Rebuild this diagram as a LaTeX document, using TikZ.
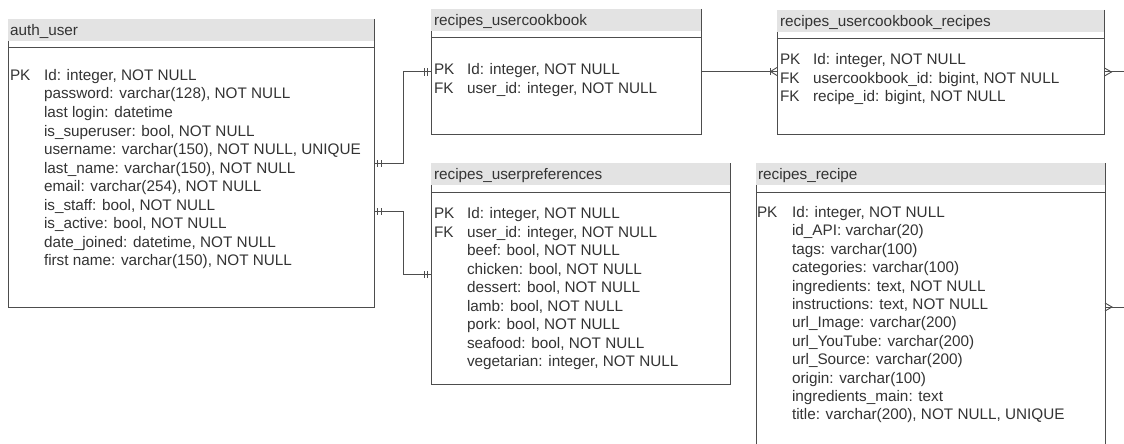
\documentclass[tikz,border=0pt]{standalone}
\usepackage{fontspec}
\setmainfont{Liberation Sans}
\usetikzlibrary{calc}
\definecolor{ink}{HTML}{333333}
\definecolor{edge}{HTML}{4D4D4D}
\definecolor{hdr}{HTML}{E3E3E3}
\tikzset{
  tbl/.style={inner sep=0, outer sep=0, draw=none},
  txt/.style={anchor=base west, inner sep=0, outer sep=0, text=ink,
              font=\fontsize{15.3}{18}\selectfont},
  frame/.style={draw=edge, line width=1pt},
  conn/.style={draw=edge, line width=1pt},
  tick/.style={draw=edge, line width=0.9pt},
}

% table: name, x, y, width, height, title x, title
\newcommand\ertable[7]{%
  \node[tbl, minimum width=#4pt, minimum height=#5pt, anchor=north west] (#1) at (#2,#3) {};
  \fill[hdr] (#1.north west) rectangle ($(#1.north east)+(0,-22pt)$);
  \draw[frame] (#1.north east) -- (#1.south east) -- (#1.south west) -- ($(#1.north west)+(0,-22pt)$);
  \draw[frame] ($(#1.north west)+(0,-29pt)$) -- ($(#1.north east)+(0,-29pt)$);
  \node[txt] (#1-title) at (#6,{#3+16.5}) {#7};
}
% field rows: name, x, first baseline, spacing, list
\newcommand\erfields[5]{%
  \foreach \t [count=\i] in {#5} {\node[txt] (#1-f\i) at (#2,{#3+#4*(\i-1)}) {\t};}
}
% mandatory-one mark: point, direction (+1 right, -1 left)
\newcommand\mandone[2]{%
  \draw[tick] ($(#1)+(#2*3.5pt,-3.5pt)$) -- ++(0,7pt);
  \draw[tick] ($(#1)+(#2*7pt,-3.5pt)$) -- ++(0,7pt);
}

\begin{document}
\begin{tikzpicture}[x=1pt,y=-1pt]
\useasboundingbox (0,0) rectangle (1124,444);

% ---------- auth_user ----------
\ertable{auth}{8}{19}{366}{288}{10}{auth\_user}
\node[txt] (auth-k1) at (10,80.5) {PK};
\erfields{auth}{44}{80.5}{18.5}{{Id: integer, NOT NULL},{password: varchar(128), NOT NULL},{last login: datetime},{is\_superuser: bool, NOT NULL},{username: varchar(150), NOT NULL, UNIQUE},{last\_name: varchar(150), NOT NULL},{email: varchar(254), NOT NULL},{is\_staff: bool, NOT NULL},{is\_active: bool, NOT NULL},{date\_joined: datetime, NOT NULL},{first name: varchar(150), NOT NULL}}

% ---------- recipes_usercookbook ----------
\ertable{ucb}{431}{9}{270}{125}{434}{recipes\_usercookbook}
\node[txt] (ucb-k1) at (434,74.5) {PK};
\node[txt] (ucb-k2) at (434,93) {FK};
\erfields{ucb}{467}{74.5}{18.5}{{Id: integer, NOT NULL},{user\_id: integer, NOT NULL}}

% ---------- recipes_usercookbook_recipes ----------
\ertable{ucr}{777}{10}{327.5}{124}{780}{recipes\_usercookbook\_recipes}
\node[txt] (ucr-k1) at (780,64.5) {PK};
\node[txt] (ucr-k2) at (780,83) {FK};
\node[txt] (ucr-k3) at (780,101.5) {FK};
\erfields{ucr}{813}{64.5}{18.5}{{Id: integer, NOT NULL},{usercookbook\_id: bigint, NOT NULL},{recipe\_id: bigint, NOT NULL}}

% ---------- recipes_userpreferences ----------
\ertable{prefs}{431}{163}{299}{221}{434}{recipes\_userpreferences}
\node[txt] (prefs-k1) at (434,218.5) {PK};
\node[txt] (prefs-k2) at (434,237) {FK};
\erfields{prefs}{467}{218.5}{18.5}{{Id: integer, NOT NULL},{user\_id: integer, NOT NULL},{beef: bool, NOT NULL},{chicken: bool, NOT NULL},{dessert: bool, NOT NULL},{lamb: bool, NOT NULL},{pork: bool, NOT NULL},{seafood: bool, NOT NULL},{vegetarian: integer, NOT NULL}}

% ---------- recipes_recipe ----------
\ertable{recipe}{756}{163}{349}{300}{758}{recipes\_recipe}
\node[txt] (recipe-k1) at (757,217.5) {PK};
\erfields{recipe}{792}{217.5}{18.4}{{Id: integer, NOT NULL},{id\_API: varchar(20)},{tags: varchar(100)},{categories: varchar(100)},{ingredients: text, NOT NULL},{instructions: text, NOT NULL},{url\_Image: varchar(200)},{url\_YouTube: varchar(200)},{url\_Source: varchar(200)},{origin: varchar(100)},{ingredients\_main: text},{title: varchar(200), NOT NULL, UNIQUE}}

% ---------- ports ----------
\coordinate (auth-p1) at ($(auth.north east)+(0,-144pt)$);
\coordinate (auth-p2) at ($(auth.north east)+(0,-192pt)$);
\coordinate (ucb-pw) at ($(ucb.north west)+(0,-63pt)$);
\coordinate (prefs-pw) at ($(prefs.north west)+(0,-111pt)$);
\coordinate (ucb-pe) at ($(ucb.north east)+(0,-62.5pt)$);
\coordinate (ucr-pw) at ($(ucr.north west)+(0,-61.5pt)$);
\coordinate (ucr-pe) at ($(ucr.north east)+(0,-62pt)$);
\coordinate (recipe-pe) at ($(recipe.north east)+(0,-144pt)$);
\coordinate (off1) at (1124,72);
\coordinate (off2) at (1124,307);

% ---------- relations ----------
\draw[conn] (auth-p1) -- ++(29pt,0) |- (ucb-pw);
\draw[conn] (auth-p2) -- ++(29pt,0) |- (prefs-pw);
\draw[conn] (ucb-pe) -- (ucr-pw);
\draw[conn] (ucr-pe) -- (off1);
\draw[conn] (recipe-pe) -- (off2);

\mandone{auth-p1}{1}
\mandone{auth-p2}{1}
\mandone{ucb-pw}{-1}
\mandone{prefs-pw}{-1}

% one-or-many at the cookbook-recipes side
\draw[tick] ($(ucr-pw)+(-7pt,-3.5pt)$) -- ++(0,7pt);
\draw[tick] ($(ucr-pw)+(0,4pt)$) -- ($(ucr-pw)+(-6.5pt,0)$) -- ($(ucr-pw)+(0,-4pt)$);

% many-side forks leaving to the right
\draw[tick] ($(ucr-pe)+(0,4pt)$) -- ($(ucr-pe)+(7pt,0)$) -- ($(ucr-pe)+(0,-4pt)$);
\draw[tick] ($(recipe-pe)+(0,4pt)$) -- ($(recipe-pe)+(7pt,0)$) -- ($(recipe-pe)+(0,-4pt)$);
\end{tikzpicture}
\end{document}
